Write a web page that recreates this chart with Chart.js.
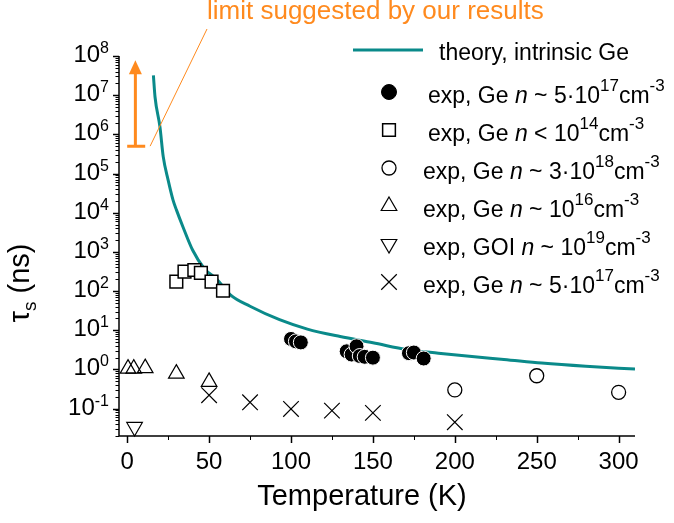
<!DOCTYPE html>
<html>
<head>
<meta charset="utf-8">
<script src="https://cdn.jsdelivr.net/npm/chart.js@4.4.1/dist/chart.umd.min.js"></script>
<style>
  html, body { margin: 0; padding: 0; background: #fff; }
  #wrap { width: 674px; height: 523px; }
</style>
</head>
<body>
<div id="wrap"><canvas id="tau-chart" width="674" height="523"></canvas></div>
<script>
const FONT = "'Liberation Sans', Arial, sans-serif";
const ORANGE = "#ff8a1e";
const TEAL = "#0a8a8a";

// theory, intrinsic Ge
const theoryT = [16, 17, 20, 22, 25, 28, 30, 34, 40, 47, 55, 63, 75, 93, 110, 130, 150, 171, 190, 212, 230, 253, 280, 310];
const theoryTau = [3.2e7, 9e6, 1.55e6, 2.7e5, 6.8e4, 2.1e4, 1.2e4, 4400, 1100, 380, 195, 80, 41, 18.6, 10.7, 6.9, 4.8, 3.2, 2.6, 2.1, 1.8, 1.45, 1.2, 1.02];

// measurements
const filledT = [100, 103, 106, 134, 137, 140, 142, 145, 150, 172, 175, 181];
const filledTau = [6.0, 5.2, 4.9, 2.9, 2.4, 3.9, 2.2, 2.1, 2.0, 2.6, 2.7, 1.9];
const squareT = [30, 35, 41, 45, 51.5, 58.5];
const squareTau = [175, 315, 345, 290, 175, 102];
const openT = [200, 250, 300];
const openTau = [0.30, 0.69, 0.26];
const upT = [0.5, 4, 11, 30, 50];
const upTau = [1.05, 1.05, 1.08, 0.78, 0.48];
const downT = [4.5];
const downTau = [0.034];
const crossT = [50, 75, 100, 125, 150, 200];
const crossTau = [0.22, 0.145, 0.098, 0.089, 0.078, 0.045];

// suggested lower limit (arrow)
const limitT = 5;
const limitTau = 5e5;
const limitTop = 7.8e7;
const limitBar = [0, 11];
const limitLeaderT = 14;

const xTicks = [0, 50, 100, 150, 200, 250, 300];
const xMinorTicks = [25, 75, 125, 175, 225, 275];
const yTickExps = [-1, 0, 1, 2, 3, 4, 5, 6, 7, 8];

const legendLabels = [
  "theory, intrinsic Ge",
  "exp, Ge *n* ~ 5\u00b710^{17}cm^{-3}",
  "exp, Ge *n* < 10^{14}cm^{-3}",
  "exp, Ge *n* ~ 3\u00b710^{18}cm^{-3}",
  "exp, Ge *n* ~ 10^{16}cm^{-3}",
  "exp, GOI *n* ~ 10^{19}cm^{-3}",
  "exp, Ge *n* ~ 5\u00b710^{17}cm^{-3}"
];

function pts(xs, ys) {
  return xs.map((x, i) => ({ x: x, y: ys[i] }));
}

// text with ^{superscript} and *italic* parts
function parseRich(s) {
  const out = [];
  const re = /\^\{([^}]*)\}|\*([^*]*)\*|([^^*]+)/g;
  let m;
  while ((m = re.exec(s))) {
    if (m[1] !== undefined) out.push({ t: m[1], sup: true });
    else if (m[2] !== undefined) out.push({ t: m[2], it: true });
    else out.push({ t: m[3] });
  }
  return out;
}

function drawRich(ctx, s, x, y, size, supSize, raise, align) {
  const parts = parseRich(s);
  const fontOf = p => (p.it ? "italic " : "") + (p.sup ? supSize : size) + "px " + FONT;
  let w = 0;
  parts.forEach(p => {
    ctx.font = fontOf(p);
    p.w = ctx.measureText(p.t).width;
    w += p.w;
  });
  let cx = align === "right" ? x - w : align === "center" ? x - w / 2 : x;
  ctx.textAlign = "left";
  ctx.textBaseline = "alphabetic";
  parts.forEach(p => {
    ctx.font = fontOf(p);
    ctx.fillText(p.t, cx, p.sup ? y - raise : y);
    cx += p.w;
  });
}

const axesPlugin = {
  id: "axes",
  beforeDatasetsDraw(chart) {
    const { ctx, chartArea: a, scales: { x, y } } = chart;
    ctx.save();
    ctx.strokeStyle = "#000";
    ctx.fillStyle = "#000";

    // y ticks, decades and minors
    for (let e = -2; e <= 8; e++) {
      for (let m = 1; m <= 9; m++) {
        const v = m * Math.pow(10, e);
        if (v < y.min * 0.999 || v > y.max * 1.001) continue;
        const py = Math.round(y.getPixelForValue(v)) + 0.5;
        ctx.lineWidth = m === 1 ? 1.5 : 1;
        ctx.beginPath();
        ctx.moveTo(a.left - (m === 1 ? 6 : 3.5), py);
        ctx.lineTo(a.left, py);
        ctx.stroke();
      }
    }

    // x ticks
    ctx.lineWidth = 1.5;
    xTicks.forEach(t => {
      const px = Math.round(x.getPixelForValue(t)) + 0.5;
      ctx.beginPath();
      ctx.moveTo(px, a.bottom);
      ctx.lineTo(px, a.bottom + 7);
      ctx.stroke();
    });
    ctx.lineWidth = 1;
    xMinorTicks.forEach(t => {
      const px = Math.round(x.getPixelForValue(t)) + 0.5;
      ctx.beginPath();
      ctx.moveTo(px, a.bottom);
      ctx.lineTo(px, a.bottom + 4);
      ctx.stroke();
    });

    // axis lines
    ctx.lineWidth = 1.5;
    ctx.beginPath();
    ctx.moveTo(a.left, a.top);
    ctx.lineTo(a.left, a.bottom);
    ctx.lineTo(a.right, a.bottom);
    ctx.stroke();

    // tick labels
    yTickExps.forEach(e => {
      const py = y.getPixelForValue(Math.pow(10, e));
      drawRich(ctx, "10^{" + e + "}", a.left - 10, py + 6, 24, 16, 9, "right");
    });
    ctx.font = "24px " + FONT;
    ctx.textAlign = "center";
    ctx.textBaseline = "middle";
    xTicks.forEach(t => {
      ctx.fillText(String(t), x.getPixelForValue(t), a.bottom + 26);
    });

    // axis titles
    ctx.font = "29px " + FONT;
    ctx.textAlign = "center";
    ctx.textBaseline = "middle";
    ctx.fillText("Temperature (K)", a.left + 243, a.bottom + 61);

    ctx.save();
    ctx.translate(29, 283);
    ctx.rotate(-Math.PI / 2);
    ctx.font = "29px " + FONT;
    const wTau = ctx.measureText("\u03c4").width;
    const wRest = ctx.measureText(" (ns)").width;
    ctx.font = "19px " + FONT;
    const wSub = ctx.measureText("s").width;
    let cx = -(wTau + wSub + wRest) / 2;
    ctx.textAlign = "left";
    ctx.textBaseline = "alphabetic";
    ctx.font = "29px " + FONT;
    ctx.fillText("\u03c4", cx, 0);
    cx += wTau;
    ctx.font = "19px " + FONT;
    ctx.fillText("s", cx, 7);
    cx += wSub;
    ctx.font = "29px " + FONT;
    ctx.fillText(" (ns)", cx, 0);
    ctx.restore();

    ctx.restore();
  }
};

const overlayPlugin = {
  id: "overlay",
  afterDraw(chart) {
    const { ctx, scales: { x, y } } = chart;
    const h = Chart.helpers;
    ctx.save();

    // legend
    const ds = chart.data.datasets;
    ctx.strokeStyle = TEAL;
    ctx.lineWidth = 3;
    ctx.beginPath();
    ctx.moveTo(353, 50);
    ctx.lineTo(423, 50);
    ctx.stroke();
    ctx.fillStyle = "#000";
    drawRich(ctx, ds[0].label, 439, 60, 23, 17, 12, "left");
    for (let i = 1; i < ds.length; i++) {
      const d = ds[i];
      const ly = 92 + 38 * (i - 1);
      ctx.fillStyle = d.backgroundColor;
      ctx.strokeStyle = "#000";
      ctx.lineWidth = d.pointBorderWidth || d.borderWidth;
      h.drawPoint(ctx, {
        pointStyle: d.pointStyle,
        rotation: d.rotation || 0,
        radius: d.pointRadius,
        borderWidth: ctx.lineWidth
      }, 389, ly);
      ctx.fillStyle = "#000";
      drawRich(ctx, d.label, i < 3 ? 428 : 423, ly + 11, 23, 17, 12, "left");
    }

    // suggested limit arrow
    const ax = x.getPixelForValue(limitT);
    const yBot = y.getPixelForValue(limitTau);
    const yTip = y.getPixelForValue(limitTop);
    ctx.strokeStyle = ORANGE;
    ctx.fillStyle = ORANGE;
    ctx.lineWidth = 3;
    ctx.beginPath();
    ctx.moveTo(ax, yBot);
    ctx.lineTo(ax, yTip + 10);
    ctx.moveTo(x.getPixelForValue(limitBar[0]), yBot);
    ctx.lineTo(x.getPixelForValue(limitBar[1]), yBot);
    ctx.stroke();
    ctx.beginPath();
    ctx.moveTo(ax, yTip);
    ctx.lineTo(ax - 6.5, yTip + 14);
    ctx.lineTo(ax + 6.5, yTip + 14);
    ctx.closePath();
    ctx.fill();

    // note and leader line
    ctx.font = "26px " + FONT;
    ctx.textAlign = "left";
    ctx.textBaseline = "middle";
    ctx.fillText("limit suggested by our results", 207, 12);
    ctx.lineWidth = 1;
    ctx.beginPath();
    ctx.moveTo(x.getPixelForValue(limitLeaderT), yBot);
    ctx.lineTo(207, 29);
    ctx.stroke();

    ctx.restore();
  }
};

const chart = new Chart(document.getElementById("tau-chart"), {
  type: "scatter",
  data: {
    datasets: [
      {
        label: legendLabels[0],
        data: pts(theoryT, theoryTau),
        showLine: true,
        borderColor: TEAL,
        backgroundColor: TEAL,
        borderWidth: 3,
        pointRadius: 0,
        cubicInterpolationMode: "monotone",
        order: 10
      },
      {
        label: legendLabels[1],
        data: pts(filledT, filledTau),
        pointStyle: "circle",
        pointRadius: 7.5,
        backgroundColor: "#000",
        borderColor: "#fff",
        borderWidth: 1,
        clip: false
      },
      {
        label: legendLabels[2],
        data: pts(squareT, squareTau),
        pointStyle: "rect",
        pointRadius: 9,
        backgroundColor: "#fff",
        borderColor: "#000",
        borderWidth: 1.5,
        clip: false
      },
      {
        label: legendLabels[3],
        data: pts(openT, openTau),
        pointStyle: "circle",
        pointRadius: 7,
        backgroundColor: "rgba(0,0,0,0)",
        borderColor: "#000",
        borderWidth: 1.3,
        clip: false
      },
      {
        label: legendLabels[4],
        data: pts(upT, upTau),
        pointStyle: "triangle",
        pointRadius: 9,
        backgroundColor: "rgba(0,0,0,0)",
        borderColor: "#000",
        borderWidth: 1.2,
        clip: false
      },
      {
        label: legendLabels[5],
        data: pts(downT, downTau),
        pointStyle: "triangle",
        rotation: 180,
        pointRadius: 9,
        backgroundColor: "rgba(0,0,0,0)",
        borderColor: "#000",
        borderWidth: 1.2,
        clip: false
      },
      {
        label: legendLabels[6],
        data: pts(crossT, crossTau),
        pointStyle: "crossRot",
        pointRadius: 11,
        backgroundColor: "rgba(0,0,0,0)",
        borderColor: "#000",
        borderWidth: 1.2,
        clip: false
      }
    ]
  },
  options: {
    responsive: false,
    animation: false,
    layout: { padding: { left: 119, right: 39, top: 56, bottom: 87 } },
    scales: {
      x: { type: "linear", min: -5, max: 310, display: false },
      y: { type: "logarithmic", min: 0.02, max: 1e8, display: false }
    },
    plugins: {
      legend: { display: false },
      tooltip: { enabled: false }
    }
  },
  plugins: [axesPlugin, overlayPlugin]
});
</script>
</body>
</html>
